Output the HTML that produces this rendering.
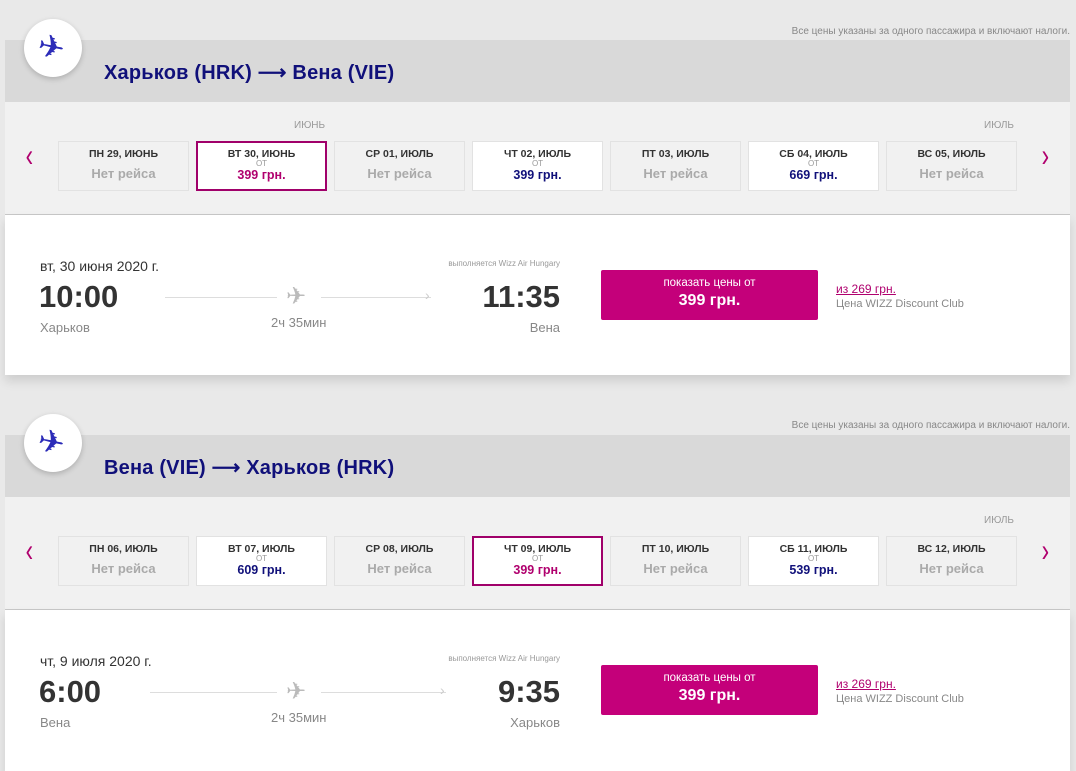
<!DOCTYPE html>
<html><head><meta charset="utf-8"><style>
body{margin:0;width:1076px;height:771px;background:#e9e9e9;font-family:"Liberation Sans","Noto Sans CJK SC",sans-serif;position:relative;overflow:hidden}
.a{position:absolute}
.note{font-size:10px;color:#888;right:6px;width:400px;text-align:right}
.hdr{left:5px;width:1065px;height:62px;background:#d9d9d9}
.cal{left:5px;width:1065px;height:112px;background:#f1f1f1;border-bottom:1px solid #c8c8c8}
.det{left:5px;width:1065px;height:160px;background:#fff;box-shadow:0 6px 10px rgba(0,0,0,.12)}
.circ{width:58px;height:58px;border-radius:50%;background:#fff;box-shadow:0 2px 6px rgba(0,0,0,.2)}
.title{font-size:20px;color:#10107a;font-weight:bold;letter-spacing:0.2px}
.mon{font-size:10px;color:#999}
.arr{font-size:32px;color:#b0006e;transform:scaleX(0.7);line-height:30px}
.day{width:129px;height:48px;border:1px solid #e2e2e2;background:#f1f1f1;text-align:center;box-sizing:content-box}
.day .d{font-size:10.5px;font-weight:bold;color:#333;margin-top:6px}
.day .n{font-size:13px;font-weight:bold;color:#aaa;margin-top:6px}
.day .o{font-size:8px;color:#999;line-height:8px}
.day .p{font-size:12.5px;font-weight:bold;color:#10107a}
.day.w{background:#fff}
.day.s{background:#fff;border:2px solid #a0006a;width:127px;height:46px}
.day.s .d{margin-top:5px}.day.s .p{color:#b0006e}
.big{font-size:31px;font-weight:bold;color:#333}
.sm{font-size:13px;color:#888}
.btn{width:217px;height:50px;background:#c4007a;border-radius:2px;color:#fff;text-align:center}
.pl{font-size:32px;color:#2b2bb8;line-height:36px;transform:rotate(12deg)}
</style></head><body>

<!-- section 1 -->
<div class="a note" style="top:26px">Все цены указаны за одного пассажира и включают налоги.</div>
<div class="a hdr" style="top:40px"></div>
<div class="a circ" style="left:24px;top:19px"></div>
<div class="a pl" style="left:38px;top:29px">✈</div>
<div class="a title" style="left:104px;top:60px">Харьков (HRK) ⟶ Вена (VIE)</div>
<div class="a cal" style="top:102px"></div>
<div class="a mon" style="left:294px;top:120px">ИЮНЬ</div>
<div class="a mon" style="left:984px;top:120px">ИЮЛЬ</div>
<div class="a arr" style="left:24px;top:140px">‹</div>
<div class="a arr" style="left:1040px;top:140px">›</div>
<div class="a day" style="left:58px;top:141px"><div class="d">ПН 29, ИЮНЬ</div><div class="n">Нет рейса</div></div>
<div class="a day s" style="left:196px;top:141px"><div class="d">ВТ 30, ИЮНЬ</div><div class="o">ОТ</div><div class="p">399 грн.</div></div>
<div class="a day" style="left:334px;top:141px"><div class="d">СР 01, ИЮЛЬ</div><div class="n">Нет рейса</div></div>
<div class="a day w" style="left:472px;top:141px"><div class="d">ЧТ 02, ИЮЛЬ</div><div class="o">ОТ</div><div class="p">399 грн.</div></div>
<div class="a day" style="left:610px;top:141px"><div class="d">ПТ 03, ИЮЛЬ</div><div class="n">Нет рейса</div></div>
<div class="a day w" style="left:748px;top:141px"><div class="d">СБ 04, ИЮЛЬ</div><div class="o">ОТ</div><div class="p">669 грн.</div></div>
<div class="a day" style="left:886px;top:141px"><div class="d">ВС 05, ИЮЛЬ</div><div class="n">Нет рейса</div></div>
<div class="a det" style="top:215px"></div>
<div class="a" style="left:40px;top:258px;font-size:14px;color:#333">вт, 30 июня 2020 г.</div>
<div class="a" style="left:380px;top:259px;width:180px;text-align:right;font-size:8px;color:#999">выполняется Wizz Air Hungary</div>
<div class="a big" style="left:39px;top:279px">10:00</div>
<div class="a big" style="left:440px;top:279px;width:120px;text-align:right">11:35</div>
<div class="a sm" style="left:40px;top:320px">Харьков</div>
<div class="a sm" style="left:440px;top:320px;width:120px;text-align:right">Вена</div>
<div class="a" style="left:165px;top:297px;width:112px;height:1px;background:#ddd"></div>
<div class="a" style="left:321px;top:297px;width:110px;height:1px;background:#ddd"></div>
<div class="a" style="left:425px;top:287px;font-size:14px;color:#ccc">›</div>
<div class="a" style="left:286px;top:283px;font-size:24px;color:#bbb;line-height:28px">✈</div>
<div class="a sm" style="left:271px;top:315px">2ч 35мин</div>
<div class="a btn" style="left:601px;top:270px"><div style="font-size:11.5px;margin-top:7px">показать цены от</div><div style="font-size:16px;font-weight:bold;margin-top:3px">399 грн.</div></div>
<div class="a" style="left:836px;top:282px;font-size:12px;color:#b0006e;text-decoration:underline">из 269 грн.</div>
<div class="a" style="left:836px;top:298px;font-size:11px;color:#888">Цена WIZZ Discount Club</div>

<!-- section 2 -->
<div class="a note" style="top:420px">Все цены указаны за одного пассажира и включают налоги.</div>
<div class="a hdr" style="top:435px"></div>
<div class="a circ" style="left:24px;top:414px"></div>
<div class="a pl" style="left:38px;top:424px">✈</div>
<div class="a title" style="left:104px;top:455px">Вена (VIE) ⟶ Харьков (HRK)</div>
<div class="a cal" style="top:497px"></div>
<div class="a mon" style="left:984px;top:515px">ИЮЛЬ</div>
<div class="a arr" style="left:24px;top:535px">‹</div>
<div class="a arr" style="left:1040px;top:535px">›</div>
<div class="a day" style="left:58px;top:536px"><div class="d">ПН 06, ИЮЛЬ</div><div class="n">Нет рейса</div></div>
<div class="a day w" style="left:196px;top:536px"><div class="d">ВТ 07, ИЮЛЬ</div><div class="o">ОТ</div><div class="p">609 грн.</div></div>
<div class="a day" style="left:334px;top:536px"><div class="d">СР 08, ИЮЛЬ</div><div class="n">Нет рейса</div></div>
<div class="a day s" style="left:472px;top:536px"><div class="d">ЧТ 09, ИЮЛЬ</div><div class="o">ОТ</div><div class="p">399 грн.</div></div>
<div class="a day" style="left:610px;top:536px"><div class="d">ПТ 10, ИЮЛЬ</div><div class="n">Нет рейса</div></div>
<div class="a day w" style="left:748px;top:536px"><div class="d">СБ 11, ИЮЛЬ</div><div class="o">ОТ</div><div class="p">539 грн.</div></div>
<div class="a day" style="left:886px;top:536px"><div class="d">ВС 12, ИЮЛЬ</div><div class="n">Нет рейса</div></div>
<div class="a det" style="top:610px;height:161px"></div>
<div class="a" style="left:40px;top:653px;font-size:14px;color:#333">чт, 9 июля 2020 г.</div>
<div class="a" style="left:380px;top:654px;width:180px;text-align:right;font-size:8px;color:#999">выполняется Wizz Air Hungary</div>
<div class="a big" style="left:39px;top:674px">6:00</div>
<div class="a big" style="left:440px;top:674px;width:120px;text-align:right">9:35</div>
<div class="a sm" style="left:40px;top:715px">Вена</div>
<div class="a sm" style="left:440px;top:715px;width:120px;text-align:right">Харьков</div>
<div class="a" style="left:150px;top:692px;width:127px;height:1px;background:#ddd"></div>
<div class="a" style="left:321px;top:692px;width:125px;height:1px;background:#ddd"></div>
<div class="a" style="left:440px;top:682px;font-size:14px;color:#ccc">›</div>
<div class="a" style="left:286px;top:678px;font-size:24px;color:#bbb;line-height:28px">✈</div>
<div class="a sm" style="left:271px;top:710px">2ч 35мин</div>
<div class="a btn" style="left:601px;top:665px"><div style="font-size:11.5px;margin-top:7px">показать цены от</div><div style="font-size:16px;font-weight:bold;margin-top:3px">399 грн.</div></div>
<div class="a" style="left:836px;top:677px;font-size:12px;color:#b0006e;text-decoration:underline">из 269 грн.</div>
<div class="a" style="left:836px;top:693px;font-size:11px;color:#888">Цена WIZZ Discount Club</div>
</body></html>
